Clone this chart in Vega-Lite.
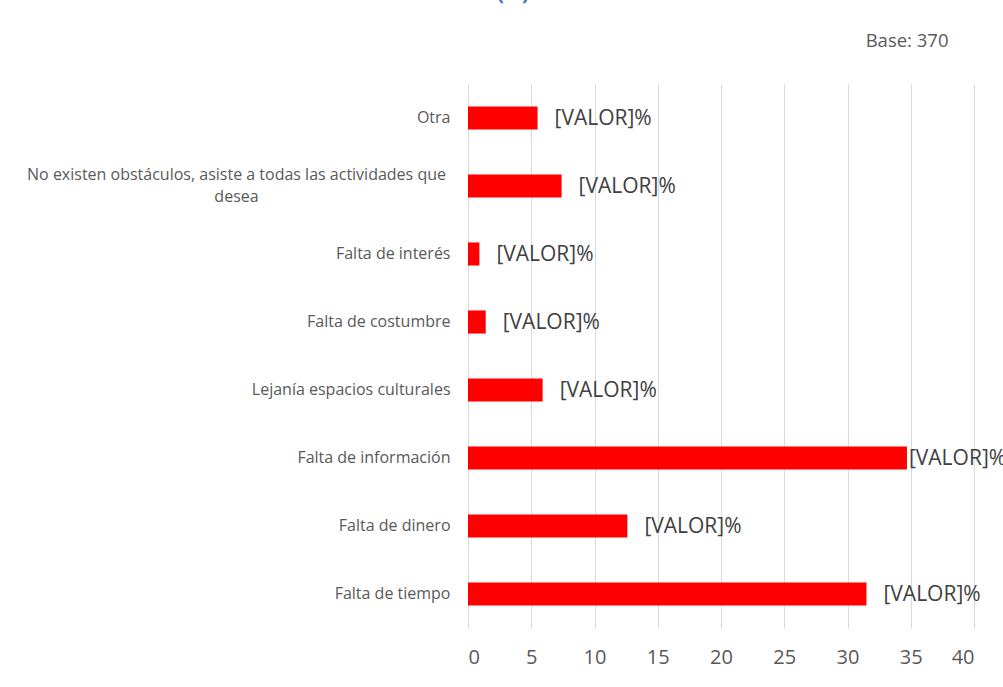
{
  "$schema": "https://vega.github.io/schema/vega-lite/v6.json",
  "width": 506,
  "height": 544,
  "autosize": {"type": "none"},
  "padding": {"left": 468, "top": 84, "right": 29, "bottom": 59},
  "background": "white",
  "title": {
    "text": "(%)",
    "anchor": "middle",
    "frame": "group",
    "dx": -208,
    "offset": 27,
    "fontSize": 20,
    "font": "Open Sans",
    "fontWeight": "bold",
    "color": "#4472C4"
  },
  "data": {
    "values": [
      {"categoria": "Otra", "valor": 5.5},
      {"categoria": "No existen obstáculos, asiste a todas las actividades que desea", "valor": 7.4},
      {"categoria": "Falta de interés", "valor": 0.9},
      {"categoria": "Falta de costumbre", "valor": 1.4},
      {"categoria": "Lejanía espacios culturales", "valor": 5.9},
      {"categoria": "Falta de información", "valor": 34.7},
      {"categoria": "Falta de dinero", "valor": 12.6},
      {"categoria": "Falta de tiempo", "valor": 31.5}
    ]
  },
  "config": {"view": {"stroke": null}},
  "encoding": {
    "y": {
      "field": "categoria",
      "type": "nominal",
      "sort": null,
      "scale": {"paddingInner": 0.66, "paddingOuter": 0.33},
      "axis": {
        "title": "Base: 370",
        "titleAngle": 0,
        "titleX": 480,
        "titleY": -38,
        "titleAlign": "right",
        "titleBaseline": "alphabetic",
        "titleColor": "#595959",
        "titleFont": "Open Sans",
        "titleFontSize": 18.5,
        "titleFontWeight": "normal",
        "ticks": false,
        "domain": false,
        "grid": false,
        "labelFont": "Open Sans",
        "labelFontSize": 16,
        "labelColor": "#595959",
        "labelLimit": 0,
        "labelLineHeight": 22,
        "labelBaseline": "middle",
        "labelExpr": "indexof(datum.value, 'desea') >= 0 ? ['No existen obstáculos, asiste a todas las actividades que', 'desea'] : datum.value",
        "labelAlign": {"condition": {"test": "indexof(datum.value, 'desea') >= 0", "value": "center"}, "value": "right"},
        "labelPadding": {"condition": {"test": "indexof(datum.value, 'desea') >= 0", "value": 232}, "value": 18},
        "labelOffset": {"condition": {"test": "indexof(datum.value, 'desea') >= 0", "value": -11}, "value": 0}
      }
    }
  },
  "layer": [
    {
      "mark": {"type": "bar", "color": "#FF0000"},
      "encoding": {
        "x": {
          "field": "valor",
          "type": "quantitative",
          "scale": {"domain": [0, 40]},
          "axis": {
            "title": null,
            "values": [0, 5, 10, 15, 20, 25, 30, 35, 40],
            "ticks": false,
            "domain": false,
            "grid": true,
            "gridColor": "#d9d9d9",
            "gridWidth": 1,
            "labelFont": "Open Sans",
            "labelFontSize": 20,
            "labelColor": "#595959",
            "labelPadding": 19
          }
        }
      }
    },
    {
      "transform": [{"filter": "datum.categoria != 'Falta de información'"}],
      "mark": {"type": "text", "align": "left", "baseline": "middle", "dx": 17, "dy": 1, "font": "Open Sans", "fontSize": 21, "color": "#404040"},
      "encoding": {
        "x": {"field": "valor", "type": "quantitative"},
        "text": {"value": "[VALOR]%"}
      }
    },
    {
      "transform": [{"filter": "datum.categoria == 'Falta de información'"}],
      "mark": {"type": "text", "align": "left", "baseline": "middle", "dx": 2, "dy": 1, "font": "Open Sans", "fontSize": 21, "color": "#404040"},
      "encoding": {
        "x": {"field": "valor", "type": "quantitative"},
        "text": {"value": "[VALOR]%"}
      }
    }
  ]
}
